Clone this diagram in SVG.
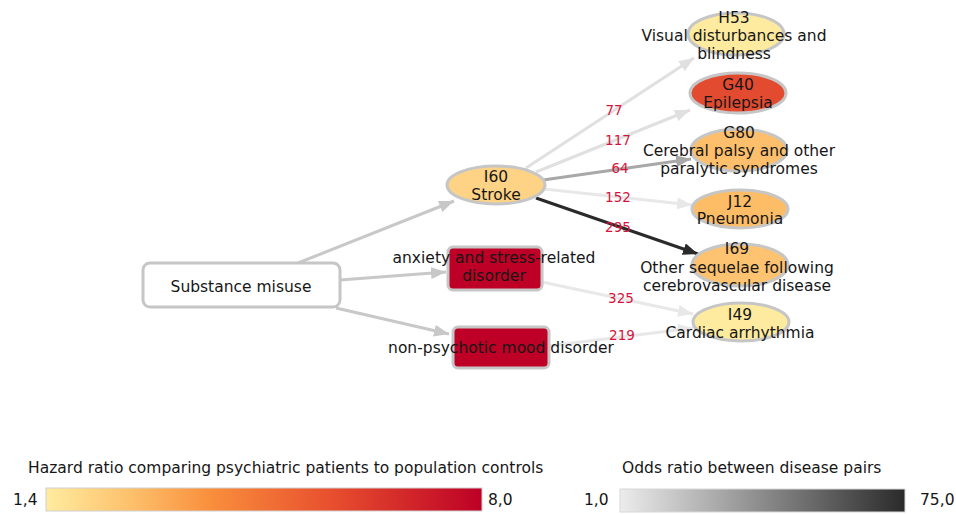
<svg xmlns="http://www.w3.org/2000/svg" width="956" height="514" viewBox="0 0 956 514">
  <style>
    text { font-family: "DejaVu Sans", Verdana, sans-serif; fill: #161616; }
    .lbl { font-size: 15.5px; text-anchor: middle; }
    .elbl { font-size: 13.5px; text-anchor: middle; fill: #d4143c; }
    .leg { font-size: 15.5px; }
    .edge { fill: none; stroke-width: 3; }
    .ell { stroke: #c6c6c6; stroke-width: 3; }
    .box { stroke: #c6c6c6; stroke-width: 3; }
  </style>
  <defs>
    <marker id="ah-c8" markerUnits="userSpaceOnUse" markerWidth="16" markerHeight="12" refX="15" refY="6" orient="auto"><path d="M0,0 L15,6 L0,12 z" fill="#c8c8c8"/></marker>
    <marker id="ah-e0" markerUnits="userSpaceOnUse" markerWidth="16" markerHeight="12" refX="15" refY="6" orient="auto"><path d="M0,0 L15,6 L0,12 z" fill="#e0e0e0"/></marker>
    <marker id="ah-e8" markerUnits="userSpaceOnUse" markerWidth="16" markerHeight="12" refX="15" refY="6" orient="auto"><path d="M0,0 L15,6 L0,12 z" fill="#e8e8e8"/></marker>
    <marker id="ah-a8" markerUnits="userSpaceOnUse" markerWidth="16" markerHeight="12" refX="15" refY="6" orient="auto"><path d="M0,0 L15,6 L0,12 z" fill="#a8a8a8"/></marker>
    <marker id="ah-2a" markerUnits="userSpaceOnUse" markerWidth="16" markerHeight="12" refX="15" refY="6" orient="auto"><path d="M0,0 L15,6 L0,12 z" fill="#2a2a2a"/></marker>
    <linearGradient id="hazard" x1="0" y1="0" x2="1" y2="0">
      <stop offset="0" stop-color="#ffeca0"/>
      <stop offset="0.2" stop-color="#fdbf6a"/>
      <stop offset="0.38" stop-color="#f98e3c"/>
      <stop offset="0.65" stop-color="#e8502e"/>
      <stop offset="1" stop-color="#bd0026"/>
    </linearGradient>
    <linearGradient id="odds" x1="0" y1="0" x2="1" y2="0">
      <stop offset="0" stop-color="#ececec"/>
      <stop offset="1" stop-color="#2a2a2a"/>
    </linearGradient>
  </defs>

  <!-- connectors -->
  <g id="connectors">
    <path class="edge" d="M298,263 L454,201" stroke="#c8c8c8" marker-end="url(#ah-c8)"/>
    <path class="edge" d="M340,280 L446,272" stroke="#c8c8c8" marker-end="url(#ah-c8)"/>
    <path class="edge" d="M336,308 L449,334" stroke="#c8c8c8" marker-end="url(#ah-c8)"/>
    <path class="edge" d="M526,168 L694,58" stroke="#e0e0e0" marker-end="url(#ah-e0)"/>
    <path class="edge" d="M536,172 L690,110" stroke="#e0e0e0" marker-end="url(#ah-e0)"/>
    <path class="edge" d="M543,180 L691,159" stroke="#a8a8a8" marker-end="url(#ah-a8)"/>
    <path class="edge" d="M544,189 L692,205" stroke="#e8e8e8" marker-end="url(#ah-e8)"/>
    <path class="edge" d="M536,198 L698,254" stroke="#2a2a2a" stroke-width="2.5" marker-end="url(#ah-2a)"/>
    <path class="edge" d="M542,282 L693,314" stroke="#e8e8e8" marker-end="url(#ah-e8)"/>
    <path class="edge" d="M549,346 L693,328" stroke="#e8e8e8" marker-end="url(#ah-e8)"/>
  </g>

  <!-- nodes -->
  <g id="substance-misuse">
    <rect class="box" x="143" y="263" width="197" height="44" rx="7" fill="#ffffff"/>
    <text class="lbl" x="241" y="292">Substance misuse</text>
  </g>
  <g id="I60">
    <ellipse class="ell" cx="496" cy="185" rx="49" ry="19" fill="#fed385"/>
    <text class="lbl" x="496" y="182">I60</text>
    <text class="lbl" x="496" y="200">Stroke</text>
  </g>
  <g id="anxiety">
    <rect class="box" x="448" y="247" width="94" height="43" rx="5" fill="#bf0026"/>
    <text class="lbl" x="494" y="263">anxiety and stress-related</text>
    <text class="lbl" x="494" y="281">disorder</text>
  </g>
  <g id="non-psychotic">
    <rect class="box" x="453" y="327" width="96" height="41" rx="5" fill="#bf0026"/>
    <text class="lbl" x="501" y="353">non-psychotic mood disorder</text>
  </g>
  <g id="H53">
    <ellipse class="ell" cx="736" cy="34" rx="48" ry="21" fill="#feeb9f"/>
    <text class="lbl" x="734" y="23">H53</text>
    <text class="lbl" x="734" y="41">Visual disturbances and</text>
    <text class="lbl" x="734" y="59">blindness</text>
  </g>
  <g id="G40">
    <ellipse class="ell" cx="738" cy="93" rx="48" ry="20" fill="#e24b30"/>
    <text class="lbl" x="738" y="90">G40</text>
    <text class="lbl" x="738" y="108">Epilepsia</text>
  </g>
  <g id="G80">
    <ellipse class="ell" cx="739" cy="150" rx="48" ry="21" fill="#fdbf6c"/>
    <text class="lbl" x="739" y="138">G80</text>
    <text class="lbl" x="739" y="156">Cerebral palsy and other</text>
    <text class="lbl" x="739" y="174">paralytic syndromes</text>
  </g>
  <g id="J12">
    <ellipse class="ell" cx="740" cy="209" rx="48" ry="19" fill="#fdbd67"/>
    <text class="lbl" x="740" y="207">J12</text>
    <text class="lbl" x="740" y="224">Pneumonia</text>
  </g>
  <g id="I69">
    <ellipse class="ell" cx="740" cy="265" rx="48" ry="21" fill="#fec370"/>
    <text class="lbl" x="737" y="254">I69</text>
    <text class="lbl" x="737" y="273">Other sequelae following</text>
    <text class="lbl" x="737" y="291">cerebrovascular disease</text>
  </g>
  <g id="I49">
    <ellipse class="ell" cx="741" cy="322" rx="48" ry="19" fill="#feeb9f"/>
    <text class="lbl" x="740" y="320">I49</text>
    <text class="lbl" x="740" y="338">Cardiac arrhythmia</text>
  </g>

  <!-- connector labels -->
  <g id="connector-labels">
    <text class="elbl" x="614" y="115">77</text>
    <text class="elbl" x="618" y="145">117</text>
    <text class="elbl" x="620" y="173">64</text>
    <text class="elbl" x="618" y="202">152</text>
    <text class="elbl" x="618" y="232">295</text>
    <text class="elbl" x="621" y="303">325</text>
    <text class="elbl" x="622" y="340">219</text>
  </g>

  <!-- legends -->
  <g id="legend-hazard">
    <text class="leg" x="28" y="473">Hazard ratio comparing psychiatric patients to population controls</text>
    <text class="leg" x="13" y="505">1,4</text>
    <rect x="46" y="488" width="436" height="23" fill="url(#hazard)" stroke="#d0d0d0" stroke-width="1"/>
    <text class="leg" x="488" y="505">8,0</text>
  </g>
  <g id="legend-odds">
    <text class="leg" x="622" y="473">Odds ratio between disease pairs</text>
    <text class="leg" x="584" y="505">1,0</text>
    <rect x="620" y="489" width="285" height="23" fill="url(#odds)" stroke="#d8d8d8" stroke-width="1"/>
    <text class="leg" x="920" y="505">75,0</text>
  </g>
</svg>
